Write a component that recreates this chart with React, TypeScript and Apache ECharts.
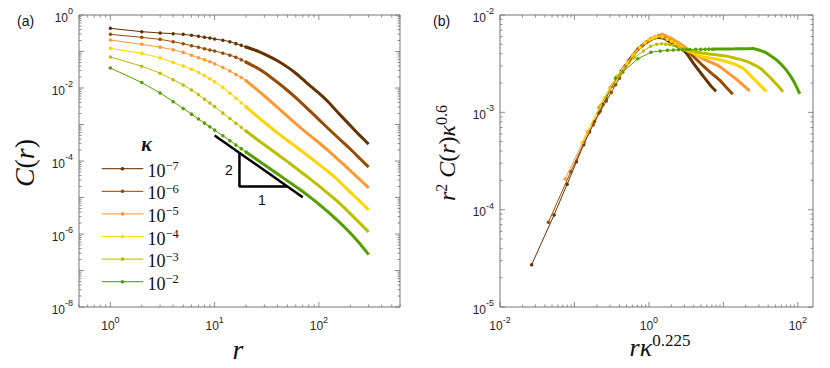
import React, { useEffect, useRef } from "react";
import * as echarts from "echarts";

// kappa exponents (kappa = 10^exp)
const kappaExp = [-7, -6, -5, -4, -3, -2];
const kappaNames = ["10^-7", "10^-6", "10^-5", "10^-4", "10^-3", "10^-2"];
const seriesColors = ["#663300", "#994c00", "#ff9933", "#ffd500", "#bcbf00", "#55a000"];

// separation distances r
const rValues = [1, 2, 3, 4, 5, 6, 7, 8, 9, 10, 12, 14, 16, 18, 20, 25, 30, 40, 50, 60, 70, 80, 100, 120, 150, 200, 250, 300];

// log10 C(r), one array per kappa
const logC_k7 = [-0.365, -0.457, -0.493, -0.511, -0.53, -0.557, -0.584, -0.612, -0.63, -0.658, -0.691, -0.73, -0.784, -0.831, -0.876, -0.973, -1.073, -1.254, -1.428, -1.596, -1.76, -1.906, -2.14, -2.351, -2.652, -3.027, -3.316, -3.539];
const logC_k6 = [-0.53, -0.612, -0.667, -0.731, -0.785, -0.84, -0.886, -0.922, -0.959, -0.986, -1.045, -1.1, -1.156, -1.227, -1.291, -1.436, -1.574, -1.844, -2.068, -2.266, -2.44, -2.598, -2.865, -3.082, -3.342, -3.672, -3.946, -4.169];
const logC_k5 = [-0.685, -0.804, -0.88, -0.951, -1.024, -1.103, -1.17, -1.228, -1.279, -1.333, -1.439, -1.535, -1.631, -1.715, -1.8, -2.026, -2.219, -2.529, -2.778, -2.976, -3.14, -3.276, -3.5, -3.689, -3.94, -4.262, -4.521, -4.734];
const logC_k4 = [-0.913, -1.051, -1.177, -1.302, -1.399, -1.487, -1.577, -1.661, -1.746, -1.827, -1.983, -2.142, -2.278, -2.405, -2.517, -2.756, -2.939, -3.231, -3.438, -3.606, -3.75, -3.876, -4.093, -4.273, -4.507, -4.852, -5.121, -5.339];
const logC_k3 = [-1.15, -1.402, -1.594, -1.774, -1.918, -2.056, -2.185, -2.306, -2.413, -2.51, -2.688, -2.837, -2.965, -3.078, -3.18, -3.389, -3.554, -3.814, -4.018, -4.189, -4.337, -4.462, -4.68, -4.868, -5.102, -5.442, -5.716, -5.944];
const logC_k2 = [-1.45, -1.852, -2.136, -2.374, -2.561, -2.716, -2.848, -2.962, -3.063, -3.154, -3.311, -3.444, -3.56, -3.661, -3.753, -3.946, -4.103, -4.352, -4.545, -4.702, -4.835, -4.961, -5.18, -5.375, -5.622, -5.974, -6.281, -6.564];
const logCAll = [logC_k7, logC_k6, logC_k5, logC_k4, logC_k3, logC_k2];

// slope-2 guide and triangle (data coordinates of panel a)
const slopeLine = [[10, 5e-4], [70, 1.02e-5]];
const slopeTriangle = [[17.3, 1.67e-4], [17.3, 2e-5], [50, 2e-5]];

// axis ranges
const xRangeA = [0.5, 600];
const yRangeA = [1e-8, 1];
const xRangeB = [0.01, 160];
const yRangeB = [1e-5, 1e-2];

const SPLIT_R = 20;
const mathFont = "'Liberation Serif', 'DejaVu Serif', serif";
const sansFont = "'Liberation Sans', Arial, sans-serif";

function tickLabel(evenOnly: boolean) {
  return (v: number) => {
    const l = Math.log10(v);
    const e = Math.round(l);
    if (Math.abs(l - e) > 1e-6) return "";
    if (evenOnly && e % 2 !== 0) return "";
    return `{b|10}{s|${e}}`;
  };
}
const tickRich = {
  b: { fontSize: 12, lineHeight: 17, verticalAlign: "bottom", fontFamily: sansFont, color: "#262626" },
  s: { fontSize: 9, lineHeight: 10, verticalAlign: "top", fontFamily: sansFont, color: "#262626" },
};

function tickSeries(gridIdx: number, xr: number[], yr: number[]) {
  const logVals = (lo: number, hi: number) => {
    const out: [number, boolean][] = [];
    for (let d = Math.floor(Math.log10(lo)); d <= Math.ceil(Math.log10(hi)); d++) {
      for (let m = 1; m <= 9; m++) {
        const v = m * Math.pow(10, d);
        if (v >= lo * 0.9999 && v <= hi * 1.0001) out.push([v, m === 1]);
      }
    }
    return out;
  };
  return {
    type: "custom",
    xAxisIndex: gridIdx,
    yAxisIndex: gridIdx,
    silent: true,
    clip: false,
    z: 10,
    data: [[xr[0], yr[0]]],
    renderItem: (params: any, api: any) => {
      const cs = params.coordSys;
      const style = { stroke: "#707070", lineWidth: 0.8 };
      const children: any[] = [];
      for (const [v, major] of logVals(xr[0], xr[1])) {
        const px = api.coord([v, yr[0]])[0];
        const len = major ? 5 : 2.5;
        children.push({ type: "line", shape: { x1: px, y1: cs.y + cs.height, x2: px, y2: cs.y + cs.height - len }, style });
        children.push({ type: "line", shape: { x1: px, y1: cs.y, x2: px, y2: cs.y + len }, style });
      }
      for (const [v, major] of logVals(yr[0], yr[1])) {
        const py = api.coord([xr[0], v])[1];
        const len = major ? 5 : 2.5;
        children.push({ type: "line", shape: { x1: cs.x, y1: py, x2: cs.x + len, y2: py }, style });
        children.push({ type: "line", shape: { x1: cs.x + cs.width, y1: py, x2: cs.x + cs.width - len, y2: py }, style });
      }
      return { type: "group", children };
    },
  };
}

function buildSeries() {
  const series: any[] = [];
  kappaExp.forEach((ke, i) => {
    const logC = logCAll[i];
    const ptsA = rValues.map((r, j) => [r, Math.pow(10, logC[j])]);
    const ptsB = rValues.map((r, j) => [
      r * Math.pow(10, 0.225 * ke),
      r * r * Math.pow(10, logC[j]) * Math.pow(10, 0.6 * ke),
    ]);
    const splitIdx = rValues.indexOf(SPLIT_R);
    const color = seriesColors[i];
    [ptsA, ptsB].forEach((pts, g) => {
      series.push({
        name: g === 0 ? kappaNames[i] : kappaNames[i] + "_b",
        type: "line",
        xAxisIndex: g,
        yAxisIndex: g,
        data: pts.slice(0, splitIdx + 1),
        symbol: "circle",
        symbolSize: 3.5,
        showSymbol: true,
        itemStyle: { color },
        lineStyle: { color, width: 1 },
        z: 2 + i,
      });
      series.push({
        name: kappaNames[i] + "_tail" + g,
        type: "line",
        xAxisIndex: g,
        yAxisIndex: g,
        data: pts.slice(splitIdx),
        symbol: "none",
        smooth: 0.2,
        itemStyle: { color },
        lineStyle: { color, width: 3 },
        z: 2 + i,
      });
    });
  });
  series.push({
    name: "slope",
    type: "line",
    xAxisIndex: 0,
    yAxisIndex: 0,
    data: slopeLine,
    symbol: "none",
    lineStyle: { color: "#000", width: 2.5 },
    z: 20,
  });
  series.push({
    name: "triangle",
    type: "line",
    xAxisIndex: 0,
    yAxisIndex: 0,
    data: slopeTriangle,
    symbol: "none",
    lineStyle: { color: "#000", width: 2.5 },
    z: 20,
  });
  series.push(tickSeries(0, xRangeA, yRangeA));
  series.push(tickSeries(1, xRangeB, yRangeB));
  return series;
}

function legendGraphics() {
  const out: any[] = [];
  const x0 = 101.7;
  const x1 = 143.3;
  const y0 = 168.7;
  const dy = 22.6;
  kappaNames.forEach((name, i) => {
    const y = y0 + i * dy;
    const color = seriesColors[i];
    out.push({ type: "line", shape: { x1: x0, y1: y, x2: x1, y2: y }, style: { stroke: color, lineWidth: 1.2, opacity: 0.85 } });
    out.push({ type: "circle", shape: { cx: (x0 + x1) / 2, cy: y, r: 1.8 }, style: { fill: color } });
    out.push({
      type: "text", x: 147.5, y: y + 1,
      style: {
        text: `{b|10}{s|−${name.slice(4)}}`, align: "left", verticalAlign: "middle",
        rich: {
          b: { font: `18px ${mathFont}`, fill: "#111", lineHeight: 20, verticalAlign: "bottom" },
          s: { font: `12.5px ${mathFont}`, fill: "#111", lineHeight: 12, verticalAlign: "top" },
        },
      },
    });
  });
  return out;
}

export default function App() {
  const ref = useRef<HTMLDivElement>(null);
  useEffect(() => {
    if (!ref.current) return;
    const chart = echarts.init(ref.current, null, { renderer: "svg" });
    const axisCommon = {
      type: "log",
      logBase: 10,
      axisLine: { show: false },
      axisTick: { show: false },
      splitLine: { show: false },
      minorTick: { show: false },
    };
    const option: any = {
      animation: false,
      backgroundColor: "#ffffff",
      grid: [
        { left: 79, top: 15, width: 321, height: 292, show: true, borderColor: "#777", borderWidth: 1, backgroundColor: "transparent" },
        { left: 500, top: 15, width: 313, height: 292, show: true, borderColor: "#777", borderWidth: 1, backgroundColor: "transparent" },
      ],
      xAxis: [
        { ...axisCommon, gridIndex: 0, min: xRangeA[0], max: xRangeA[1], axisLabel: { formatter: tickLabel(false), rich: tickRich, margin: 8, showMinLabel: false, showMaxLabel: false } },
        { ...axisCommon, gridIndex: 1, min: xRangeB[0], max: xRangeB[1], axisLabel: { formatter: tickLabel(true), rich: tickRich, margin: 8, showMaxLabel: false } },
      ],
      yAxis: [
        { ...axisCommon, gridIndex: 0, min: yRangeA[0], max: yRangeA[1], axisLabel: { formatter: tickLabel(true), rich: tickRich, margin: 6 } },
        { ...axisCommon, gridIndex: 1, min: yRangeB[0], max: yRangeB[1], axisLabel: { formatter: tickLabel(false), rich: tickRich, margin: 6 } },
      ],
      graphic: [
        { type: "text", left: 17, top: 14, style: { text: "(a)", font: `14px ${sansFont}`, fill: "#111" } },
        { type: "text", left: 433, top: 14, style: { text: "(b)", font: `14px ${sansFont}`, fill: "#111" } },
        { type: "text", x: 146.5, y: 144, style: { text: "κ", font: `italic bold 20px ${mathFont}`, fill: "#111", align: "center", verticalAlign: "middle" } },
        { type: "text", x: 229, y: 170, style: { text: "2", font: `14px ${sansFont}`, fill: "#111", align: "center", verticalAlign: "middle" } },
        { type: "text", x: 262, y: 200, style: { text: "1", font: `14px ${sansFont}`, fill: "#111", align: "center", verticalAlign: "middle" } },
        ...legendGraphics(),
        {
          type: "text", x: 238, y: 349,
          style: { text: "r", font: `italic 28px ${mathFont}`, fill: "#111", align: "center", verticalAlign: "middle" },
        },
        {
          type: "text", x: 24, y: 163, rotation: Math.PI / 2,
          style: {
            text: "{i|C}{n|(}{i|r}{n|)}", align: "center", verticalAlign: "middle",
            rich: {
              i: { font: `italic 28px ${mathFont}`, fill: "#111" },
              n: { font: `28px ${mathFont}`, fill: "#111" },
            },
          },
        },
        {
          type: "text", x: 446, y: 153, rotation: Math.PI / 2,
          style: {
            text: "{i|r}{s|2}{i| C}{n|(}{i|r}{n|)}{i|κ}{s|0.6}", align: "center", verticalAlign: "middle",
            rich: {
              i: { font: `italic 24px ${mathFont}`, fill: "#111", lineHeight: 26, verticalAlign: "bottom" },
              n: { font: `24px ${mathFont}`, fill: "#111", lineHeight: 26, verticalAlign: "bottom" },
              s: { font: `16px ${mathFont}`, fill: "#111", lineHeight: 14, verticalAlign: "top" },
            },
          },
        },
        {
          type: "text", x: 660, y: 346,
          style: {
            text: "{i|rκ}{s|0.225}", align: "center", verticalAlign: "middle",
            rich: {
              i: { font: `italic 26px ${mathFont}`, fill: "#111", lineHeight: 28, verticalAlign: "bottom" },
              s: { font: `17px ${mathFont}`, fill: "#111", lineHeight: 15, verticalAlign: "top" },
            },
          },
        },
      ],
      series: buildSeries(),
    };
    chart.setOption(option);
    return () => chart.dispose();
  }, []);
  return (
    <div
      ref={ref}
      style={{ position: "fixed", left: 0, top: 0, width: 830, height: 368, background: "#fff" }}
    />
  );
}
